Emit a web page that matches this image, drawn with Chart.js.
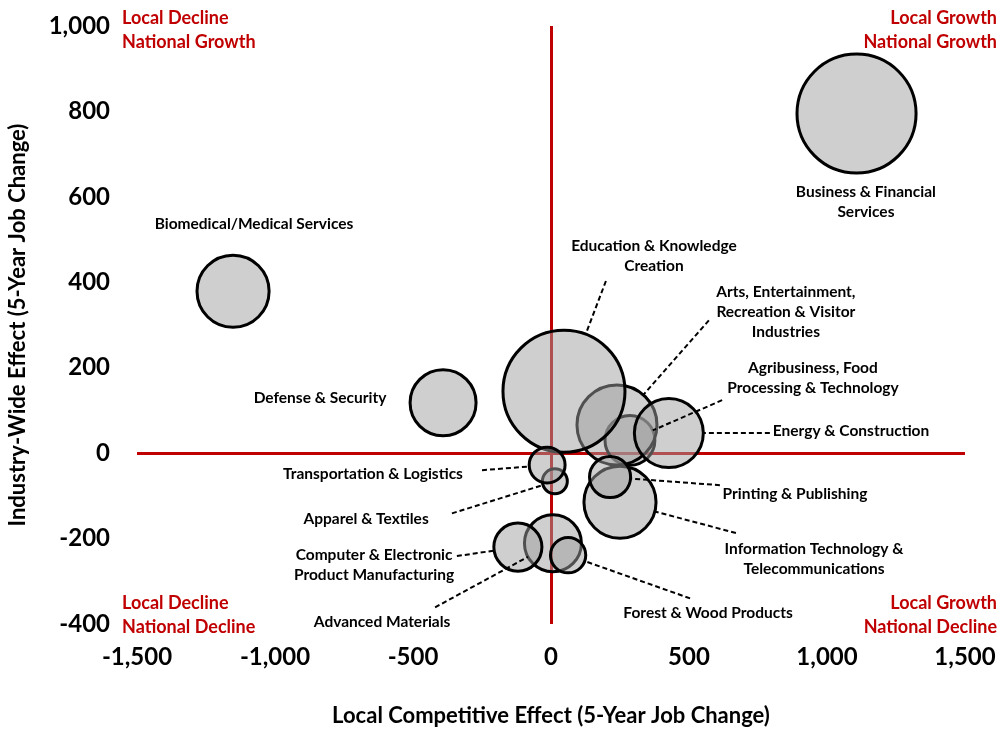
<!DOCTYPE html>
<html lang="en">
<head>
<meta charset="UTF-8">
<title>Industry Clusters: Local vs Industry-Wide Effect</title>
<script src="https://cdn.jsdelivr.net/npm/chart.js@4.4.1/dist/chart.umd.min.js"></script>
<style>
  html, body { margin: 0; padding: 0; background: #ffffff; }
  #chart-box { width: 1000px; height: 729px; }
</style>
</head>
<body>
<div id="chart-box"><canvas id="bubble-chart" width="1000" height="729"></canvas></div>
<script>
// Data (listed in drawing order: later bubbles sit on top of earlier ones)
const industries = [
    'Business & Financial Services',
    'Biomedical/Medical Services',
    'Defense & Security',
    'Agribusiness, Food Processing & Technology',
    'Arts, Entertainment, Recreation & Visitor Industries',
    'Education & Knowledge Creation',
    'Energy & Construction',
    'Information Technology & Telecommunications',
    'Printing & Publishing',
    'Apparel & Textiles',
    'Transportation & Logistics',
    'Advanced Materials',
    'Computer & Electronic Product Manufacturing',
    'Forest & Wood Products'
];
const localEffect    = [1107, -1152, -391, 286, 239,  47, 427,  250, 214,  14, -14,  7, -120,   62];
const industryEffect = [ 795,   379,  118,  30,  66, 145,  47, -115, -56, -66, -28, -211, -220, -239];
const employment     = [31900, 11700, 9800, 5600, 14400, 33500, 10700, 11700, 3800, 1400, 2900, 7300, 5200, 2800];

// Tick values
const xTicks = [-1500, -1000, -500, 0, 500, 1000, 1500];
const yTicks = [-400, -200, 0, 200, 400, 600, 800, 1000];

// Quadrant captions
const quadrantText = {
    topLeft: ['Local Decline', 'National Growth'],
    topRight: ['Local Growth', 'National Growth'],
    bottomLeft: ['Local Decline', 'National Decline'],
    bottomRight: ['Local Growth', 'National Decline']
};

// Label placement (in chart units), same order as industries
// at = centre of the text block, from = where the dashed leader starts
const labelLayout = [
    { lines: ['Business & Financial', 'Services'], at: [1141, 587] },
    { lines: ['Biomedical/Medical Services'], at: [-1076, 536] },
    { lines: ['Defense & Security'], at: [-837, 129] },
    { lines: ['Agribusiness, Food', 'Processing & Technology'], at: [949, 177], from: [620, 124] },
    { lines: ['Arts, Entertainment,', 'Recreation & Visitor', 'Industries'], at: [851, 331], from: [572, 311] },
    { lines: ['Education & Knowledge', 'Creation'], at: [373, 461], from: [199, 403] },
    { lines: ['Energy & Construction'], at: [1087, 52], from: [793, 47] },
    { lines: ['Information Technology &', 'Telecommunications'], at: [953, -248], from: [670, -187] },
    { lines: ['Printing & Publishing'], at: [884, -96], from: [612, -75] },
    { lines: ['Apparel & Textiles'], at: [-670, -155], from: [-359, -141] },
    { lines: ['Transportation & Logistics'], at: [-645, -49], from: [-250, -40] },
    { lines: ['Advanced Materials'], at: [-612, -396], from: [-420, -361] },
    { lines: ['Computer & Electronic', 'Product Manufacturing'], at: [-641, -263], from: [-341, -241] },
    { lines: ['Forest & Wood Products'], at: [569, -375], from: [504, -340] }
];

const FONT = 'Lato, "Open Sans", sans-serif';
const RED = '#c00000';

// Bubble radius from employment (area proportional to jobs)
function bubbleRadius(jobs) {
    return Math.sqrt(jobs) / 3;
}

function formatNumber(v) {
    return (v < 0 ? '-' : '') + Math.abs(v).toLocaleString('en-US');
}

// Plugin for leader lines, industry labels and quadrant captions
const labelPlugin = {
    id: 'clusterLabels',
    afterDatasetsDraw(chart) {
        const { ctx, chartArea, scales: { x, y } } = chart;
        const points = chart.getDatasetMeta(0).data;
        ctx.save();

        // 1. Dashed leaders from label to bubble edge
        ctx.strokeStyle = '#000000';
        ctx.lineWidth = 2;
        ctx.setLineDash([5, 3]);
        labelLayout.forEach((lab, i) => {
            if (!lab.from) return;
            const p = points[i];
            const sx = x.getPixelForValue(lab.from[0]);
            const sy = y.getPixelForValue(lab.from[1]);
            const d = Math.hypot(sx - p.x, sy - p.y);
            const r = p.options.radius;
            ctx.beginPath();
            ctx.moveTo(sx, sy);
            ctx.lineTo(p.x + (sx - p.x) / d * r, p.y + (sy - p.y) / d * r);
            ctx.stroke();
        });
        ctx.setLineDash([]);

        // 2. Industry labels
        ctx.fillStyle = '#000000';
        ctx.font = `bold 15.5px ${FONT}`;
        ctx.textAlign = 'center';
        ctx.textBaseline = 'middle';
        labelLayout.forEach(lab => {
            const cx = x.getPixelForValue(lab.at[0]);
            const cy = y.getPixelForValue(lab.at[1]);
            const lineH = 20;
            const top = cy - (lab.lines.length - 1) * lineH / 2;
            lab.lines.forEach((t, k) => ctx.fillText(t, cx, top + k * lineH));
        });

        // 3. Quadrant captions
        ctx.fillStyle = RED;
        ctx.font = `bold 18px ${FONT}`;
        const drawBlock = (lines, px, py, align) => {
            ctx.textAlign = align;
            lines.forEach((t, k) => ctx.fillText(t, px, py + k * 24));
        };
        drawBlock(quadrantText.topLeft, chartArea.left - 15, chartArea.top - 8, 'left');
        drawBlock(quadrantText.topRight, chartArea.right + 32, chartArea.top - 8, 'right');
        drawBlock(quadrantText.bottomLeft, chartArea.left - 15, chartArea.bottom - 21, 'left');
        drawBlock(quadrantText.bottomRight, chartArea.right + 32, chartArea.bottom - 21, 'right');

        ctx.restore();
    }
};

// Red quadrant lines through zero, nothing else
function zeroLine(ctx) {
    return ctx.tick && ctx.tick.value === 0 ? RED : 'rgba(0,0,0,0)';
}

function renderChart() {
    const ctx = document.getElementById('bubble-chart').getContext('2d');
    new Chart(ctx, {
        type: 'bubble',
        data: {
            datasets: [{
                label: 'Industry clusters',
                data: industries.map((name, i) => ({
                    x: localEffect[i],
                    y: industryEffect[i],
                    r: bubbleRadius(employment[i])
                })),
                backgroundColor: 'rgba(160, 160, 160, 0.5)',
                borderColor: '#000000',
                borderWidth: 3
            }]
        },
        options: {
            responsive: false,
            animation: false,
            events: [],
            layout: { autoPadding: false, padding: { top: 26, right: 35, bottom: 0, left: 0 } },
            plugins: {
                legend: { display: false },
                tooltip: { enabled: false }
            },
            scales: {
                x: {
                    type: 'linear',
                    min: -1500,
                    max: 1500,
                    afterBuildTicks: scale => { scale.ticks = xTicks.map(v => ({ value: v })); },
                    afterFit: scale => {
                        scale.height = 105;
                        scale.paddingLeft = 0;
                        scale.paddingRight = 0;
                    },
                    border: { display: false },
                    grid: { color: zeroLine, lineWidth: 3, drawTicks: false },
                    ticks: {
                        padding: 19,
                        color: '#000000',
                        font: { family: FONT, size: 24, weight: 'bold' },
                        callback: v => formatNumber(v)
                    },
                    title: {
                        display: true,
                        text: 'Local Competitive Effect (5-Year Job Change)',
                        color: '#000000',
                        font: { family: FONT, size: 22, weight: 'bold' },
                        padding: { top: 0, bottom: 0 }
                    }
                },
                y: {
                    type: 'linear',
                    min: -400,
                    max: 1000,
                    afterBuildTicks: scale => { scale.ticks = yTicks.map(v => ({ value: v })); },
                    afterFit: scale => {
                        scale.width = 137;
                        scale.paddingTop = 0;
                        scale.paddingBottom = 0;
                    },
                    border: { display: false },
                    grid: { color: zeroLine, lineWidth: 3, drawTicks: false },
                    ticks: {
                        padding: 27,
                        color: '#000000',
                        font: { family: FONT, size: 24, weight: 'bold' },
                        callback: v => formatNumber(v)
                    },
                    title: {
                        display: true,
                        text: 'Industry-Wide Effect (5-Year Job Change)',
                        color: '#000000',
                        font: { family: FONT, size: 22, weight: 'bold' },
                        padding: { top: 5, bottom: 0 }
                    }
                }
            }
        },
        plugins: [labelPlugin]
    });
}

document.fonts.load(`bold 16px Lato`).then(renderChart, renderChart);
</script>
</body>
</html>
